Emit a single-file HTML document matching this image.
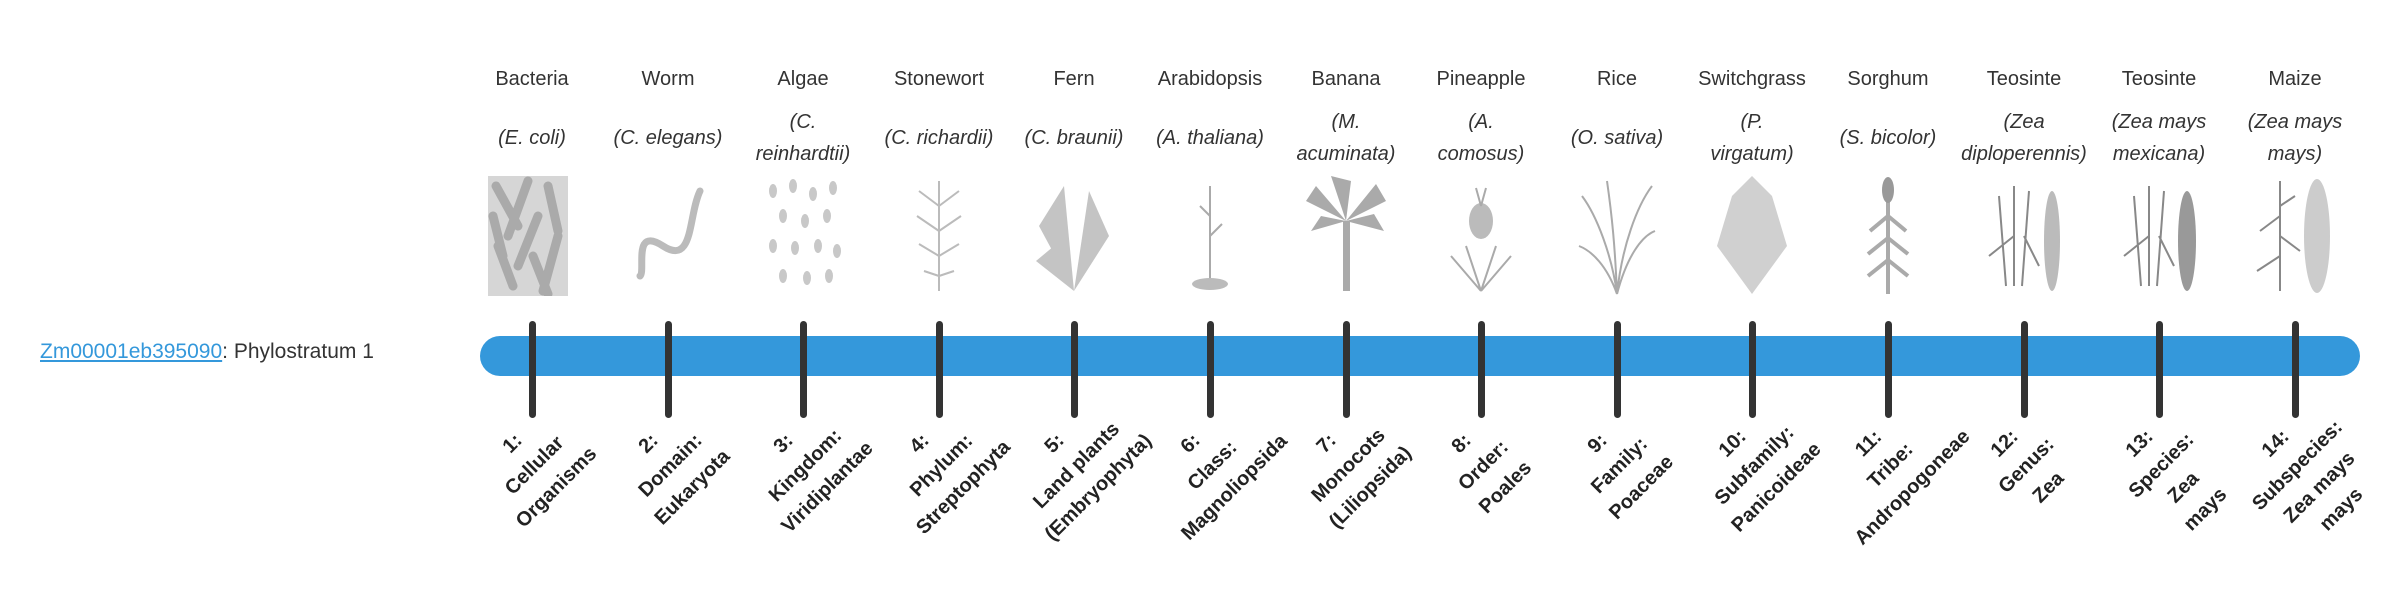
<!DOCTYPE html>
<html><head><meta charset="utf-8"><style>
body{margin:0;width:2400px;height:580px;background:#fff;position:relative;overflow:hidden;font-family:"Segoe UI","Liberation Sans",sans-serif;color:#333}
.lbl{position:absolute;left:40px;top:340px;font-size:21px;white-space:nowrap}
.lbl a{color:#3498db;text-decoration:underline}
.bar{position:absolute;left:480px;top:336px;width:1880px;height:40px;border-radius:20px;background:#3498db}
.tick{position:absolute;top:321px;width:7px;height:97px;background:#333;border-radius:4px}
.col{position:absolute;width:136px;text-align:center;font-size:20px}
.nm{position:absolute;top:68px}
.sp{position:absolute;font-style:italic;line-height:32px}
.img{position:absolute;top:176px}
.bl{position:absolute;top:433px;width:200px;text-align:center;font-weight:bold;font-size:20px;line-height:31px;transform-origin:top center;transform:rotate(-45deg);color:#222}
</style></head><body>
<div class="lbl"><a>Zm00001eb395090</a>: Phylostratum 1</div>
<div class="bar"></div>

<div class="col nm" style="left:464px">Bacteria</div>
<div class="col nm" style="left:600px">Worm</div>
<div class="col nm" style="left:735px">Algae</div>
<div class="col nm" style="left:871px">Stonewort</div>
<div class="col nm" style="left:1006px">Fern</div>
<div class="col nm" style="left:1142px">Arabidopsis</div>
<div class="col nm" style="left:1278px">Banana</div>
<div class="col nm" style="left:1413px">Pineapple</div>
<div class="col nm" style="left:1549px">Rice</div>
<div class="col nm" style="left:1684px">Switchgrass</div>
<div class="col nm" style="left:1820px">Sorghum</div>
<div class="col nm" style="left:1956px">Teosinte</div>
<div class="col nm" style="left:2091px">Teosinte</div>
<div class="col nm" style="left:2227px">Maize</div>

<div class="col sp" style="left:464px;top:122px">(<i>E. coli</i>)</div>
<div class="col sp" style="left:600px;top:122px">(C. elegans)</div>
<div class="col sp" style="left:735px;top:106px">(C.<br>reinhardtii)</div>
<div class="col sp" style="left:871px;top:122px">(C. richardii)</div>
<div class="col sp" style="left:1006px;top:122px">(C. braunii)</div>
<div class="col sp" style="left:1142px;top:122px">(A. thaliana)</div>
<div class="col sp" style="left:1278px;top:106px">(M.<br>acuminata)</div>
<div class="col sp" style="left:1413px;top:106px">(A.<br>comosus)</div>
<div class="col sp" style="left:1549px;top:122px">(O. sativa)</div>
<div class="col sp" style="left:1684px;top:106px">(P.<br>virgatum)</div>
<div class="col sp" style="left:1820px;top:122px">(S. bicolor)</div>
<div class="col sp" style="left:1956px;top:106px">(Zea<br>diploperennis)</div>
<div class="col sp" style="left:2091px;top:106px">(Zea mays<br>mexicana)</div>
<div class="col sp" style="left:2227px;top:106px">(Zea mays<br>mays)</div>

<svg class="img" style="left:488px" width="80" height="120"><rect width="80" height="120" fill="#d6d6d6"/><g stroke="#aaa" stroke-width="9" stroke-linecap="round"><path d="M8 10L30 50M40 5L20 60M60 10L70 55M50 40L30 90M10 70L25 110M70 60L55 115M45 80L60 118M5 40L15 80"/></g></svg>
<svg class="img" style="left:628px" width="80" height="120"><path d="M72 15C60 40 66 90 35 70S18 95 12 100" fill="none" stroke="#bbb" stroke-width="7" stroke-linecap="round"/></svg>
<svg class="img" style="left:763px" width="80" height="120"><g fill="#c8c8c8"><ellipse cx="10" cy="15" rx="4" ry="7"/><ellipse cx="30" cy="10" rx="4" ry="7"/><ellipse cx="50" cy="18" rx="4" ry="7"/><ellipse cx="70" cy="12" rx="4" ry="7"/><ellipse cx="20" cy="40" rx="4" ry="7"/><ellipse cx="42" cy="45" rx="4" ry="7"/><ellipse cx="64" cy="40" rx="4" ry="7"/><ellipse cx="10" cy="70" rx="4" ry="7"/><ellipse cx="32" cy="72" rx="4" ry="7"/><ellipse cx="55" cy="70" rx="4" ry="7"/><ellipse cx="74" cy="75" rx="4" ry="7"/><ellipse cx="20" cy="100" rx="4" ry="7"/><ellipse cx="44" cy="102" rx="4" ry="7"/><ellipse cx="66" cy="100" rx="4" ry="7"/></g></svg>
<svg class="img" style="left:899px" width="80" height="120"><g stroke="#bbb" stroke-width="2" fill="none"><path d="M40 5V115M40 30L20 15M40 30L60 15M40 55L18 40M40 55L62 40M40 80L20 68M40 80L60 68M40 100L25 95M40 100L55 95"/></g></svg>
<svg class="img" style="left:1034px" width="80" height="120"><g fill="#c4c4c4"><path d="M40 115L30 10L5 50Z"/><path d="M40 115L55 15L75 60Z"/><path d="M40 115L20 70L2 85Z"/></g></svg>
<svg class="img" style="left:1170px" width="80" height="120"><g stroke="#aaa" stroke-width="2" fill="none"><path d="M40 110V10M40 40L30 30M40 60L52 48"/></g><ellipse cx="40" cy="108" rx="18" ry="6" fill="#bbb"/></svg>
<svg class="img" style="left:1306px" width="80" height="120"><g fill="#aaa"><rect x="37" y="45" width="7" height="70"/><path d="M40 45L0 25L10 10Z M40 45L80 25L70 8Z M40 45L25 0L45 5Z M40 45L5 55L15 40Z M40 45L78 55L68 38Z"/></g></svg>
<svg class="img" style="left:1441px" width="80" height="120"><ellipse cx="40" cy="45" rx="12" ry="18" fill="#bbb"/><g stroke="#aaa" stroke-width="2"><path d="M40 30L35 12M40 30L45 12M40 115L10 80M40 115L70 80M40 115L25 70M40 115L55 70"/></g></svg>
<svg class="img" style="left:1577px" width="80" height="120"><g stroke="#aaa" stroke-width="2" fill="none"><path d="M40 118C35 80 20 40 5 20M40 118C45 70 60 30 75 10M40 118C38 70 35 40 30 5M40 118C50 80 65 60 78 55M40 118C30 90 15 75 2 70"/></g></svg>
<svg class="img" style="left:1712px" width="80" height="120"><path d="M40 118L5 70L20 20L40 0L60 20L75 70Z" fill="#d0d0d0"/></svg>
<svg class="img" style="left:1848px" width="80" height="120"><rect x="38" y="20" width="4" height="98" fill="#aaa"/><ellipse cx="40" cy="14" rx="6" ry="13" fill="#999"/><g stroke="#aaa" stroke-width="4" fill="none"><path d="M40 40L22 55M40 40L58 55M40 62L20 78M40 62L60 78M40 84L20 100M40 84L60 100"/></g></svg>
<svg class="img" style="left:1984px" width="80" height="120"><g stroke="#888" stroke-width="2" fill="none"><path d="M30 110V10M22 110L15 20M38 110L45 15M30 60L5 80M40 60L55 90"/></g><ellipse cx="68" cy="65" rx="8" ry="50" fill="#bbb"/></svg>
<svg class="img" style="left:2119px" width="80" height="120"><g stroke="#888" stroke-width="2" fill="none"><path d="M30 110V10M22 110L15 20M38 110L45 15M30 60L5 80M40 60L55 90"/></g><ellipse cx="68" cy="65" rx="9" ry="50" fill="#999"/></svg>
<svg class="img" style="left:2255px" width="80" height="120"><g stroke="#888" stroke-width="2" fill="none"><path d="M25 115V5M25 40L5 55M25 60L45 75M25 80L2 95M25 30L40 20"/></g><ellipse cx="62" cy="60" rx="13" ry="57" fill="#ccc"/></svg>

<div class="tick" style="left:529px"></div>
<div class="tick" style="left:665px"></div>
<div class="tick" style="left:800px"></div>
<div class="tick" style="left:936px"></div>
<div class="tick" style="left:1071px"></div>
<div class="tick" style="left:1207px"></div>
<div class="tick" style="left:1343px"></div>
<div class="tick" style="left:1478px"></div>
<div class="tick" style="left:1614px"></div>
<div class="tick" style="left:1749px"></div>
<div class="tick" style="left:1885px"></div>
<div class="tick" style="left:2021px"></div>
<div class="tick" style="left:2156px"></div>
<div class="tick" style="left:2292px"></div>

<div class="bl" style="left:402px">1:<br>Cellular<br>Organisms</div>
<div class="bl" style="left:538px">2:<br>Domain:<br>Eukaryota</div>
<div class="bl" style="left:673px">3:<br>Kingdom:<br>Viridiplantae</div>
<div class="bl" style="left:809px">4:<br>Phylum:<br>Streptophyta</div>
<div class="bl" style="left:944px">5:<br>Land plants<br>(Embryophyta)</div>
<div class="bl" style="left:1080px">6:<br>Class:<br>Magnoliopsida</div>
<div class="bl" style="left:1216px">7:<br>Monocots<br>(Liliopsida)</div>
<div class="bl" style="left:1351px">8:<br>Order:<br>Poales</div>
<div class="bl" style="left:1487px">9:<br>Family:<br>Poaceae</div>
<div class="bl" style="left:1622px">10:<br>Subfamily:<br>Panicoideae</div>
<div class="bl" style="left:1758px">11:<br>Tribe:<br>Andropogoneae</div>
<div class="bl" style="left:1894px">12:<br>Genus:<br>Zea</div>
<div class="bl" style="left:2029px">13:<br>Species:<br>Zea<br>mays</div>
<div class="bl" style="left:2165px">14:<br>Subspecies:<br>Zea mays<br>mays</div>
</body></html>
